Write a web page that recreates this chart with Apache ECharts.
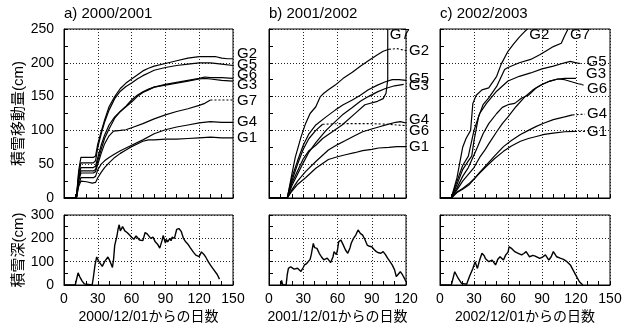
<!DOCTYPE html>
<html>
<head>
<meta charset="utf-8">
<script src="https://cdn.jsdelivr.net/npm/echarts@6/dist/echarts.min.js"></script>
<style>
  html, body { margin: 0; padding: 0; background: #fff; }
  #chart { width: 633px; height: 329px; }
</style>
</head>
<body>
<div id="chart"></div>
<script>
// panel titles / axis texts
const panelTitles = ['a) 2000/2001', 'b) 2001/2002', 'c) 2002/2003'];
const xNames = ['2000/12/01からの日数', '2001/12/01からの日数', '2002/12/01からの日数'];
const xMax = [150, 120, 150];
const topYName = '積雪移動量(cm)';
const bottomYName = '積雪深(cm)';

// a) 2000/2001 cumulative transport  [day, cm]
const g2a = [[0,0],[11,0],[13,40],[15,60],[26,60],[28,62],[30,80],[33,98],[36,115],[40,135],[45,150],[50,162],[55,170],[60,176],[65,182],[70,188],[75,192],[80,195],[90,199],[100,203],[110,207],[120,209],[130,209],[135,209],[140,207],[145,206],[150,206]];
const g5a = [[0,0],[11,0],[13,35],[15,52],[26,52],[28,55],[30,75],[33,95],[36,112],[40,130],[45,147],[50,158],[55,165],[60,170],[65,176],[70,181],[75,185],[80,189],[90,193],[100,196],[110,198],[120,200],[130,200],[140,198],[150,196]];
const g6a = [[0,0],[11,0],[13,30],[15,45],[26,45],[28,47],[30,60],[33,78],[36,93],[40,108],[45,120],[50,128],[55,135],[60,142],[65,150],[70,156],[75,160],[80,164],[90,168],[100,171],[110,174],[120,177],[125,179],[130,178],[140,178],[150,177]];
const g3a = [[0,0],[11,0],[13,28],[15,40],[26,40],[28,42],[30,55],[33,72],[36,88],[40,102],[45,118],[50,128],[55,136],[60,145],[65,152],[70,157],[75,161],[80,164],[90,167],[100,170],[110,173],[120,176],[125,177],[130,176],[140,174],[150,173]];
const g7a = [[0,0],[11,0],[13,25],[15,37],[26,37],[28,39],[30,50],[33,66],[36,80],[40,92],[44,99],[50,100],[55,101],[60,104],[70,110],[80,117],[90,123],[100,128],[110,132],[120,137],[125,140],[130,145]];
const g7aTail = [[130,145],[150,145]];
const g4a = [[0,0],[11,0],[13,20],[15,30],[26,30],[28,32],[30,42],[33,50],[36,55],[40,60],[45,65],[50,70],[55,74],[60,78],[70,86],[80,95],[85,98],[90,101],[100,105],[110,108],[120,111],[130,113],[140,112],[150,112]];
const g1a = [[0,0],[11,0],[13,17],[15,25],[20,24],[25,22],[28,23],[30,30],[33,38],[36,45],[40,52],[45,60],[50,66],[55,71],[60,76],[65,80],[70,84],[75,86],[80,86],[90,87],[100,87],[110,88],[120,89],[130,90],[140,89],[150,89]];

// b) 2001/2002
const g2b = [[0,0],[16,0],[20,35],[23,60],[28,90],[32,110],[36,125],[41,135],[45,150],[48,155],[52,160],[58,167],[65,177],[73,186],[80,195],[87,203],[95,212],[100,217],[105,220]];
const g2bTail = [[105,220],[112,221],[120,218]];
const g5b = [[0,0],[16,0],[20,30],[25,55],[30,78],[35,95],[41,108],[50,120],[58,130],[65,138],[73,145],[80,152],[87,160],[95,167],[102,172],[108,175],[114,175],[120,174]];
const g3b = [[0,0],[16,0],[20,18],[25,35],[30,52],[35,68],[41,82],[50,100],[58,113],[65,124],[73,134],[80,143],[87,150],[95,157],[102,162],[110,166],[118,168]];
const g7b = [[0,0],[16,0],[20,22],[25,40],[30,58],[35,70],[41,78],[47,88],[52,94],[64,108],[76,126],[84,138],[95,143],[100,147],[102.5,155],[104,175],[104,250]];
const g6b = [[0,0],[16,0],[20,25],[25,50],[30,72],[35,88],[41,100],[47,109]];
const g6bTail = [[47,109],[60,110],[90,110],[105,109],[120,107]];
const g4b = [[0,0],[16,0],[20,12],[25,25],[32,39],[41,54],[52,71],[60,79],[67,85],[75,92],[82,98],[90,102],[96,105],[104,109],[111,112],[115,113],[120,111]];
const g1b = [[0,0],[16,0],[20,10],[25,20],[32,30],[41,44],[52,57],[60,61],[67,64],[75,67],[82,70],[90,72],[96,74],[105,75],[112,76],[120,76]];

// c) 2002/2003
const g2c = [[0,0],[10,0],[15,30],[20,75],[23,88],[27,100],[29,140],[32,152],[37,160],[43,163],[50,180],[54,198],[60,217],[65,228],[70,238],[74,245],[77,250]];
const g7c = [[0,0],[10,0],[15,20],[20,42],[25,55],[28,62],[30,85],[34,120],[38,138],[43,148],[50,165],[57,190],[60,193],[70,200],[80,205],[88,212],[95,219],[100,224],[107,229],[110,240],[113,250]];
const g5c = [[0,0],[10,0],[15,25],[20,48],[25,62],[30,100],[35,125],[41,140],[50,158],[60,173],[70,180],[80,185],[90,191],[100,195],[110,200],[115,202],[120,200],[124,199]];
const g3c = [[0,0],[10,0],[15,15],[20,32],[25,45],[29,60],[33,75],[38,95],[43,110],[50,125],[55,134],[60,138],[66,140],[72,148],[78,152],[85,163],[90,168],[97,173],[104,176],[110,177],[120,177]];
const g6c = [[0,0],[10,0],[15,12],[20,25],[25,35],[30,45],[35,60],[40,72],[43,80],[50,98],[55,110],[60,120],[67,135],[75,150],[82,160],[90,168],[97,173],[104,176],[110,175],[116,172],[122,169],[125,168]];
const g6cTail = [[125,168],[128,166]];
const g4c = [[0,0],[10,0],[15,8],[20,13],[26,20],[30,28],[35,38],[41,49],[48,62],[56,76],[63,85],[71,94],[78,100],[85,106],[92,111],[100,116],[110,120],[117,123]];
const g4cTail = [[117,123],[128,124]];
const g1c = [[0,0],[10,0],[15,9],[20,14],[26,22],[30,28],[35,37],[41,47],[48,58],[56,69],[63,77],[71,84],[78,88],[85,91],[92,94],[100,96],[110,98],[119,98.5]];
const g1cTail = [[119,98.5],[128,98.5]];

// snow depth [day, cm]
const depthA = [[0,0],[10,0],[11,5],[12.5,52],[14,35],[16,18],[18,5],[19,0],[25,0],[26,30],[27.5,85],[29,120],[31,100],[34,80],[36,100],[37,108],[39,120],[41,100],[43,75],[44,110],[45,170],[47,210],[48,240],[49,258],[50,232],[52,250],[54,232],[56,225],[58,215],[60,205],[62,196],[64,210],[65,218],[67,193],[70,190],[72,225],[74,218],[75,212],[77,200],[79,205],[81,185],[83,175],[85,158],[87,190],[88,212],[90,180],[91,195],[92,185],[94,200],[95,190],[96,205],[98,200],[100,238],[102,242],[104,230],[106,200],[108,185],[110,175],[112,160],[115,140],[117,128],[120,122],[122,142],[124,132],[126,118],[128,100],[130,85],[133,65],[136,45],[138,25]];
const depthB = [[10,0],[11,20],[12,0],[15,0],[16,45],[17,71],[19,78],[20,72],[22,68],[23,64],[25,72],[26,68],[28,58],[30,75],[31,86],[33,92],[34,100],[36,110],[37,130],[38.8,178],[40,160],[42,157],[44,136],[46,120],[48,108],[49,100],[51,115],[52,112],[54,96],[55,93],[56,120],[57,143],[59,130],[60,150],[61,185],[63,193],[65,172],[67,150],[69,136],[71,160],[72,179],[74,200],[76,214],[78,236],[80,221],[82,214],[84,195],[86,171],[88,166],[90,164],[92,152],[94,143],[96,138],[98,136],[100,143],[102,130],[104,114],[106,100],[108,85],[110,65],[111.5,36],[113,45],[115,57],[117,43],[119,25],[120,14]];
const depthC = [[0,0],[10,0],[13,57],[16,29],[19,7],[23.5,3],[26,36],[29,71],[31,100],[33,71],[35,107],[37,136],[39,125],[40,114],[43,100],[46,107],[49,86],[51,110],[53,121],[56,107],[58,129],[60,140],[61,164],[63,157],[66,143],[69,136],[72,129],[74,135],[76,143],[79,121],[82,127],[84,124],[88,114],[90,118],[93,129],[96,107],[98,120],[100,143],[103,121],[106,115],[109,110],[112,100],[115,86],[119,50],[123,14],[126,0]];

const FONT = "'Liberation Sans', 'Noto Sans CJK JP', sans-serif";
const grids = [
  { left: 64, top: 29, width: 169, height: 169 },
  { left: 269, top: 29, width: 137, height: 169 },
  { left: 440, top: 29, width: 170, height: 169 },
  { left: 64, top: 215, width: 169, height: 70 },
  { left: 269, top: 215, width: 137, height: 70 },
  { left: 440, top: 215, width: 170, height: 70 }
].map(g => Object.assign({ show: true, borderColor: '#000', borderWidth: 1, backgroundColor: 'transparent' }, g));

const gridLine = { show: true, lineStyle: { color: '#222', type: [1, 2], width: 1 } };

const xAxes = grids.map((g, i) => {
  const p = i % 3, bottom = i >= 3;
  return {
    type: 'value', gridIndex: i, min: 0, max: xMax[p], interval: 30,
    axisLine: { show: true, lineStyle: { color: '#000' } },
    axisTick: { show: true, inside: true, length: 4, lineStyle: { color: '#000' } },
    minorTick: { show: true, splitNumber: 3, length: 4, lineStyle: { color: '#000' } },
    splitLine: gridLine,
    axisLabel: { show: bottom, color: '#000', fontSize: 14, fontFamily: FONT, margin: 7 },
    name: bottom ? xNames[p] : '',
    nameLocation: 'middle', nameGap: 25,
    nameTextStyle: { color: '#000', fontSize: 14, fontFamily: FONT }
  };
});

const yAxes = grids.map((g, i) => {
  const p = i % 3, bottom = i >= 3;
  return {
    type: 'value', gridIndex: i, min: 0, max: bottom ? 300 : 250, interval: bottom ? 100 : 50,
    axisLine: { show: true, lineStyle: { color: '#000' } },
    axisTick: { show: true, inside: true, length: 4, lineStyle: { color: '#000' } },
    minorTick: { show: true, splitNumber: 2, length: 4, lineStyle: { color: '#000' } },
    splitLine: gridLine,
    axisLabel: { show: p === 0, color: '#000', fontSize: 14, fontFamily: FONT, margin: 10 },
    name: p === 0 ? (bottom ? bottomYName : topYName) : '',
    nameLocation: 'middle', nameGap: 37,
    nameTextStyle: { color: '#000', fontSize: 15, fontFamily: FONT }
  };
});

function label(name, distance, dy) {
  return { show: true, formatter: name, color: '#000', fontSize: 15, fontFamily: FONT,
           distance: distance, offset: [0, dy] };
}

// one gauge curve (+ optional dotted leader to its label)
function gauge(idx, name, data, tail, distance, dy) {
  const base = { type: 'line', xAxisIndex: idx, yAxisIndex: idx, symbol: 'none',
                 silent: true, animation: false, clip: true };
  const out = [Object.assign({}, base, {
    name: name, data: data,
    lineStyle: { color: '#000', width: 1.2 },
    endLabel: tail ? { show: false } : label(name, distance, dy)
  })];
  if (tail) {
    out.push(Object.assign({}, base, {
      name: name + '_', data: tail,
      lineStyle: { color: '#000', width: 1.1, type: [2, 2] },
      endLabel: label(name, distance, dy)
    }));
  }
  return out;
}

function depth(idx, data) {
  return { type: 'line', xAxisIndex: idx, yAxisIndex: idx, symbol: 'none', silent: true,
           animation: false, data: data, lineStyle: { color: '#000', width: 1.4 } };
}

const series = [].concat(
  gauge(0, 'G2', g2a, null, 4, -5),
  gauge(0, 'G5', g5a, null, 4, -1),
  gauge(0, 'G6', g6a, null, 4, -3),
  gauge(0, 'G3', g3a, null, 4, 4),
  gauge(0, 'G7', g7a, g7aTail, 4, 1),
  gauge(0, 'G4', g4a, null, 4, 0),
  gauge(0, 'G1', g1a, null, 4, 0),

  gauge(1, 'G2', g2b, g2bTail, 3, 0),
  gauge(1, 'G5', g5b, null, 3, -2),
  gauge(1, 'G3', g3b, null, 5, 1),
  gauge(1, 'G7', g7b, null, 2, 6),
  gauge(1, 'G6', g6bTail ? g6b : g6b, g6bTail, 3, 5),
  gauge(1, 'G4', g4b, null, 3, -3),
  gauge(1, 'G1', g1b, null, 3, 0),

  gauge(2, 'G2', g2c, null, 2, 6),
  gauge(2, 'G7', g7c, null, 2, 6),
  gauge(2, 'G5', g5c, null, 6, -2),
  gauge(2, 'G3', g3c, null, 10, -4),
  gauge(2, 'G6', g6c, g6cTail, 2, 3),
  gauge(2, 'G4', g4c, g4cTail, 2, 0),
  gauge(2, 'G1', g1c, g1cTail, 2, 0),

  [depth(3, depthA), depth(4, depthB), depth(5, depthC)]
);

const chart = echarts.init(document.getElementById('chart'), null, { renderer: 'canvas' });
chart.setOption({
  animation: false,
  backgroundColor: '#fff',
  title: panelTitles.map((t, i) => ({
    text: t, left: grids[i].left, top: 6, padding: 0,
    textStyle: { color: '#000', fontSize: 15, fontWeight: 'normal', fontFamily: FONT }
  })),
  grid: grids,
  xAxis: xAxes,
  yAxis: yAxes,
  series: series
});
</script>
</body>
</html>
